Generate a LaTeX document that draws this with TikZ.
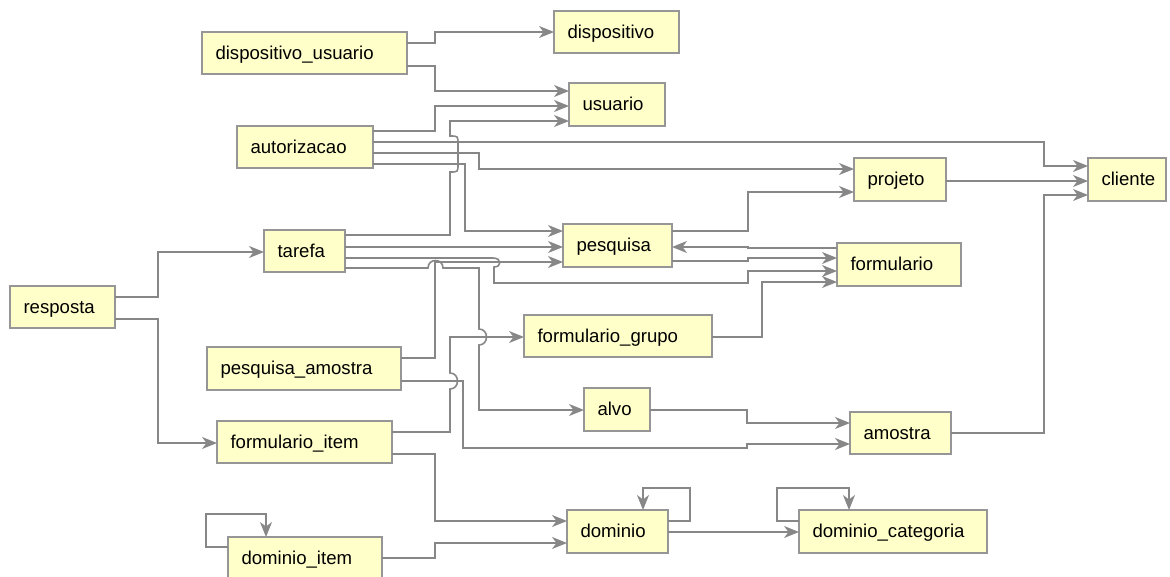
\documentclass[tikz,border=0pt]{standalone}
\usepackage{fontspec}
\setmainfont{Liberation Sans}
\usetikzlibrary{arrows.meta}

\definecolor{boxfill}{RGB}{255,255,202}
\definecolor{boxline}{RGB}{150,150,150}
\definecolor{wire}{RGB}{135,135,135}

\tikzset{
  tbl/.style={draw=boxline, line width=1.4pt, fill=boxfill, anchor=north west,
    inner xsep=13.5pt, inner ysep=0pt, outer sep=0pt, align=left,
    text height=15.5pt, text depth=3pt,
    font=\fontsize{18.6}{22}\selectfont},
  fk/.style={draw=wire, line width=1.6pt,
    -{Stealth[length=15pt,width=12pt,inset=4.5pt]}, fill=none},
}

% table box: name, x, y (top left), width, height, label
\newcommand{\tablebox}[6]{%
  \node[tbl, text width=#4pt-27pt, minimum height=#5pt] (#1) at (#2,#3) {#6};}

\begin{document}
\begin{tikzpicture}[x=1pt,y=-1pt]
\useasboundingbox (0,0) rectangle (1170,576);

\tablebox{du}{202}{32}{205}{42}{dispositivo\_usuario}
\tablebox{disp}{554}{11}{125}{42}{dispositivo}
\tablebox{usu}{569}{83}{96}{43}{usuario}
\tablebox{aut}{237}{126}{136}{42}{autorizacao}
\tablebox{proj}{854}{158}{92}{43}{projeto}
\tablebox{cli}{1088}{158}{78}{43}{cliente}
\tablebox{pesq}{563}{224}{109}{43}{pesquisa}
\tablebox{tar}{264}{230}{81}{42}{tarefa}
\tablebox{form}{837}{243}{124}{43}{formulario}
\tablebox{resp}{10}{286}{105}{42}{resposta}
\tablebox{fg}{524}{315}{188}{42}{formulario\_grupo}
\tablebox{pa}{207}{347}{194}{43}{pesquisa\_amostra}
\tablebox{alvo}{584}{388}{66}{43}{alvo}
\tablebox{amo}{850}{412}{101}{42}{amostra}
\tablebox{fi}{217}{421}{175}{42}{formulario\_item}
\tablebox{dom}{567}{510}{101}{43}{dominio}
\tablebox{dc}{799}{510}{188}{43}{dominio\_categoria}
\tablebox{di}{228}{537}{154}{42}{dominio\_item}

% dispositivo_usuario
\draw[fk] (du.east |- 0,43) -| (435,32) -- (disp.west |- 0,32);
\draw[fk] (du.east |- 0,66) -| (435,91) -- (usu.west |- 0,91);

% autorizacao
\draw[fk] (aut.east |- 0,131) -| (435,106) -- (usu.west |- 0,106);
\draw[fk] (aut.east |- 0,142) -| (1044,166) -- (cli.west |- 0,166);
\draw[fk] (aut.east |- 0,153) -| (479,169) -- (proj.west |- 0,169);
\draw[fk] (aut.east |- 0,164) -| (465,231) -- (pesq.west |- 0,231);

% tarefa
\draw[fk] (tar.east |- 0,235) -| (450,172)
  .. controls (458,172) .. (458,164) -- (458,144)
  .. controls (458,136) .. (450,136) -- (450,121) -- (usu.west |- 0,121);
\draw[fk] (tar.east |- 0,247) -- (pesq.west |- 0,247);
\draw[fk] (tar.east |- 0,258) -- (493,258)
  .. controls (502,258) and (502,267) .. (494,267) -- (494,283)
  -| (748,271) -- (form.west |- 0,271);
\draw[fk] (tar.east |- 0,268) -- (428,268)
  .. controls (428,258) and (443,258) .. (443,268) -- (479,268) -- (479,329)
  .. controls (489,329) and (489,345) .. (479,345) -- (479,410)
  -- (alvo.west |- 0,410);

% projeto / pesquisa / formulario
\draw[fk] (proj.east |- 0,181) -- (cli.west |- 0,181);
\draw[fk] (pesq.east |- 0,231) -| (748,192) -- (proj.west |- 0,192);
\draw[fk] (form.west |- 0,248) -- (748,248) -- (748,247) -- (pesq.east |- 0,247);
\draw[fk] (pesq.east |- 0,261) -| (748,258) -- (form.west |- 0,258);
\draw[fk] (fg.east |- 0,337) -| (762,282) -- (form.west |- 0,282);

% resposta
\draw[fk] (resp.east |- 0,297) -| (158,252) -- (tar.west |- 0,252);
\draw[fk] (resp.east |- 0,319) -| (158,443) -- (fi.west |- 0,443);

% pesquisa_amostra
\draw[fk] (pa.east |- 0,358) -| (435,262) -- (pesq.west |- 0,262);
\draw[fk] (pa.east |- 0,381) -| (463,448) -- (747,448) -- (747,444) -- (amo.west |- 0,444);

% formulario_item
\draw[fk] (fi.east |- 0,432) -| (450,389)
  .. controls (460,389) and (460,373) .. (450,373) -- (450,337) -- (fg.west |- 0,337);
\draw[fk] (fi.east |- 0,454) -| (435,521) -- (dom.west |- 0,521);

% alvo / amostra
\draw[fk] (alvo.east |- 0,410) -| (747,423) -- (amo.west |- 0,423);
\draw[fk] (amo.east |- 0,433) -| (1044,195) -- (cli.west |- 0,195);

% dominio family
\draw[fk] (di.east |- 0,558) -| (435,543) -- (dom.west |- 0,543);
\draw[fk] (di.west |- 0,547) -- (206,547) -- (206,514) -- (266,514) -- (266,537);
\draw[fk] (dom.east |- 0,521) -- (690,521) -- (690,488) -- (643,488) -- (643,510);
\draw[fk] (dom.east |- 0,532) -- (dc.west |- 0,532);
\draw[fk] (dc.west |- 0,521) -- (777,521) -- (777,488) -- (849,488) -- (849,510);
\end{tikzpicture}
\end{document}
